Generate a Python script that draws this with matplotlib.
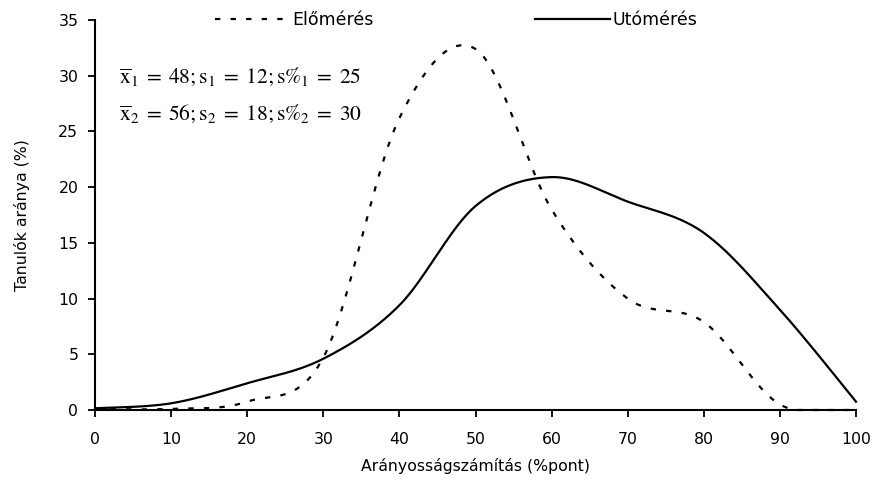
import numpy as np
import matplotlib
matplotlib.use("Agg")
import matplotlib.pyplot as plt

# Data
x_points = [0, 10, 20, 30, 40, 50, 60, 70, 80, 90, 100]
elomeres = [0.1, 0.1, 0.75, 4.7, 26.2, 32.4, 18.0, 10.0, 7.9, 0.5, 0.0]
utomeres = [0.15, 0.6, 2.4, 4.6, 9.4, 18.3, 20.9, 18.7, 15.9, 9.0, 0.75]
x_ticks = [0, 10, 20, 30, 40, 50, 60, 70, 80, 90, 100]
y_ticks = [0, 5, 10, 15, 20, 25, 30, 35]
series_names = ["Előmérés", "Utómérés"]
x_label = "Arányosságszámítás (%pont)"
y_label = "Tanulók aránya (%)"
stats_lines = [
    r"$\overline{\mathrm{x}}_1\;=\;48;\mathrm{s}_1\;=\;12;\mathrm{s\%}_1\;=\;25$",
    r"$\overline{\mathrm{x}}_2\;=\;56;\mathrm{s}_2\;=\;18;\mathrm{s\%}_2\;=\;30$",
]


def smooth(xs, ys, n=40):
    """Excel-like smoothed line (Catmull-Rom Bezier segments)."""
    P = np.column_stack([xs, ys]).astype(float)
    out = []
    m = len(P)
    for i in range(m - 1):
        p0 = P[i - 1] if i > 0 else P[i]
        p1 = P[i]
        p2 = P[i + 1]
        p3 = P[i + 2] if i + 2 < m else P[i + 1]
        c1 = p1 + (p2 - p0) / 6.0
        c2 = p2 - (p3 - p1) / 6.0
        t = np.linspace(0, 1, n, endpoint=(i == m - 2))[:, None]
        seg = ((1 - t) ** 3) * p1 + 3 * ((1 - t) ** 2) * t * c1 + 3 * (1 - t) * t ** 2 * c2 + t ** 3 * p2
        out.append(seg)
    out = np.vstack(out)
    return out[:, 0], np.clip(out[:, 1], 0, None)


plt.rcParams['font.family'] = ['DejaVu Sans']
plt.rcParams['mathtext.fontset'] = 'stix'

fig = plt.figure(figsize=(8.75, 4.86), dpi=100)
ax = fig.add_axes([95 / 875, 1 - 410 / 486, 761 / 875, 390 / 486])

sx, sy = smooth(x_points, elomeres)
l1, = ax.plot(sx, sy, color='black', lw=1.6, linestyle=(0, (2.4, 4.6)),
              dash_capstyle='butt', label=series_names[0], clip_on=False)
sx, sy = smooth(x_points, utomeres)
l2, = ax.plot(sx, sy, color='black', lw=1.6, label=series_names[1], clip_on=False)

ax.set_xlim(0, 100)
ax.set_ylim(0, 35)
ax.set_xticks(x_ticks)
ax.set_yticks(y_ticks)
for s in ['top', 'right']:
    ax.spines[s].set_visible(False)
for s in ['left', 'bottom']:
    ax.spines[s].set_linewidth(1.5)
    ax.spines[s].set_color('black')
ax.tick_params(axis='both', direction='out', length=5, width=1.3, labelsize=11.3,
               colors='black')
ax.tick_params(axis='x', pad=11)
ax.tick_params(axis='y', pad=7)

ax.set_xlabel(x_label, fontsize=11.3, labelpad=8)
ax.set_ylabel(y_label, fontsize=11.3, labelpad=20)

ax.text(119 / 875, 1 - 77 / 486, stats_lines[0], transform=fig.transFigure,
        fontsize=15.5, va='center', ha='left')
ax.text(119 / 875, 1 - 114 / 486, stats_lines[1], transform=fig.transFigure,
        fontsize=15.5, va='center', ha='left')

leg = fig.legend(handles=[l1, l2], loc='center', bbox_to_anchor=(456 / 875, 1 - 20 / 486),
                 ncol=2, frameon=False, fontsize=12.5, handlelength=4.3,
                 handletextpad=0.15, columnspacing=9.3, borderpad=0)

fig.savefig("out.png", dpi=100)
